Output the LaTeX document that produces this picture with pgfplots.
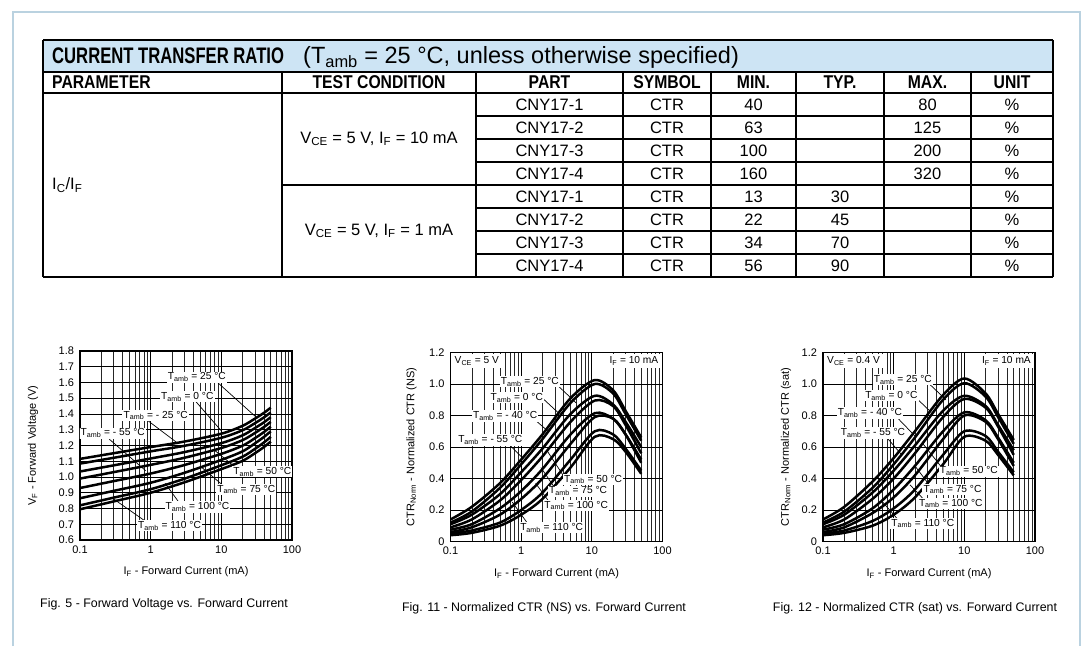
\documentclass[border=0pt]{standalone}
\usepackage{fontspec}
\setmainfont{Liberation Sans}
\newfontfamily\condf[FakeStretch=0.85]{Liberation Sans}
\newfontfamily\titlef[FakeStretch=0.74]{Liberation Sans}
\usepackage{pgfplots}
\pgfplotsset{compat=1.18}
\definecolor{framec}{RGB}{186,210,224}
\definecolor{bandc}{RGB}{205,228,244}
\newcommand\fs[1]{\fontsize{#1}{#1}\selectfont}
\newcommand\Ta{T\textsubscript{amb}}
\newcommand\bodyf{\fs{16.5}}
\newcommand\headf{\condf\bfseries\fs{18.5}}
\newcommand\trow[5]{%
  \node[font=\bodyf] at (549.5,#1) {#2};
  \node[font=\bodyf] at (667,#1) {CTR};
  \node[font=\bodyf] at (753.5,#1) {#3};
  \node[font=\bodyf] at (840,#1) {#4};
  \node[font=\bodyf] at (927.5,#1) {#5};
  \node[font=\bodyf] at (1012,#1) {\%};}
\tikzset{
  lab/.style={fill=white, inner sep=1.2pt, font=\fs{10.2}},
  ld/.style={black, line width=0.7pt},
}
\pgfplotsset{
  every axis/.append style={
    scale only axis, width=212pt, height=189pt,
    xmode=log, xmin=0.1, xmax=100,
    xtick={0.1,1,10,100}, xticklabels={0.1,1,10,100},
    minor xtick={0.2,0.3,0.4,0.5,0.6,0.7,0.8,0.9,2,3,4,5,6,7,8,9,20,30,40,50,60,70,80,90},
    grid=both,
    major grid style={black, line width=0.8pt},
    minor grid style={black!85, line width=0.55pt},
    major tick length=0pt, minor tick length=0pt,
    axis line style={line width=1.7pt},
    tick label style={font=\fs{11}},
    xticklabel style={yshift=-2pt},
    yticklabel style={xshift=-2.5pt},
    label style={font=\fs{11}},
    xlabel={I\textsubscript{F} - Forward Current (mA)},
    xlabel style={at={(axis description cs:0.5,-0.17)}, anchor=center},
  },
  every axis plot post/.append style={black, solid, mark=none, line width=2.5pt, smooth},
}
\begin{document}
\begin{tikzpicture}
\path[use as bounding box] (0pt,0pt) rectangle (1086pt,646pt);
\begin{scope}[x=1pt,y=-1pt,shift={(0pt,646pt)}]
  \draw[framec, line width=2pt] (13,646) -- (13,12) -- (1080,12) -- (1080,646);
  % table
  \fill[bandc] (43,40) rectangle (1053,72);
  \draw[line width=1.2pt] (43,40) -- (1053,40);
  \draw[line width=1.2pt] (43,40) -- (43,277) (1053,40) -- (1053,277);
  \draw[line width=1.1pt] (43,72) -- (1053,72) (43,93) -- (1053,93) (43,277) -- (1053,277);
  \foreach \x in {282,476,623,711,796,884,971} \draw[line width=1.1pt] (\x,72) -- (\x,277);
  \foreach \y in {116,139,162,208,231,254} \draw[line width=1.1pt] (476,\y) -- (1053,\y);
  \draw[line width=1.1pt] (282,185) -- (1053,185);
  \node[anchor=base west, inner sep=0pt, font=\titlef\bfseries\fs{22.5}] at (52,64) {CURRENT TRANSFER RATIO};
  \node[anchor=base west, inner sep=0pt, font=\fs{23.5}] at (303,64) {(\Ta{} = 25 °C, unless otherwise specified)};
  \node[anchor=west, inner sep=0pt, font=\headf] at (52,82.5) {PARAMETER};
  \node[font=\headf] at (379,82.5) {TEST CONDITION};
  \node[font=\headf] at (549.5,82.5) {PART};
  \node[font=\headf] at (667,82.5) {SYMBOL};
  \node[font=\headf] at (753.5,82.5) {MIN.};
  \node[font=\headf] at (840,82.5) {TYP.};
  \node[font=\headf] at (927.5,82.5) {MAX.};
  \node[font=\headf] at (1012,82.5) {UNIT};
  \node[anchor=west, inner sep=0pt, font=\bodyf] at (52,185) {I\textsubscript{C}/I\textsubscript{F}};
  \node[font=\bodyf] at (379,139) {V\textsubscript{CE} = 5 V, I\textsubscript{F} = 10 mA};
  \node[font=\bodyf] at (379,231) {V\textsubscript{CE} = 5 V, I\textsubscript{F} = 1 mA};
  \trow{104.5}{CNY17-1}{40}{}{80}
  \trow{127.5}{CNY17-2}{63}{}{125}
  \trow{150.5}{CNY17-3}{100}{}{200}
  \trow{173.5}{CNY17-4}{160}{}{320}
  \trow{196.5}{CNY17-1}{13}{30}{}
  \trow{219.5}{CNY17-2}{22}{45}{}
  \trow{242.5}{CNY17-3}{34}{70}{}
  \trow{265.5}{CNY17-4}{56}{90}{}
  % captions
  \node[font=\fs{12.4}] at (164,604) {Fig. 5 - Forward Voltage vs. Forward Current};
  \node[font=\fs{12.4}] at (544,608) {Fig. 11 - Normalized CTR (NS) vs. Forward Current};
  \node[font=\fs{12.4}] at (915,608) {Fig. 12 - Normalized CTR (sat) vs. Forward Current};
\end{scope}

% ---------- Fig 5 ----------
\begin{axis}[at={(80pt,106pt)}, anchor=south west,
  ymin=0.6, ymax=1.8,
  ytick={0.6,0.7,0.8,0.9,1.0,1.1,1.2,1.3,1.4,1.5,1.6,1.7,1.8},
  yticklabels={0.6,0.7,0.8,0.9,1.0,1.1,1.2,1.3,1.4,1.5,1.6,1.7,1.8},
  ylabel={V\textsubscript{F} - Forward Voltage (V)},
  ylabel style={at={(axis description cs:-0.222,0.5)}, anchor=center}]
\addplot coordinates {(0.1,1.115)(0.3,1.151)(1,1.19)(3,1.225)(10,1.275)(20,1.325)(30,1.371)(40,1.407)(50,1.44)};
\addplot coordinates {(0.1,1.085)(0.3,1.122)(1,1.163)(3,1.198)(10,1.249)(20,1.297)(30,1.342)(40,1.378)(50,1.41)};
\addplot coordinates {(0.1,1.035)(0.3,1.074)(1,1.1175)(3,1.158)(10,1.215)(20,1.2645)(30,1.311)(40,1.347)(50,1.38)};
\addplot coordinates {(0.1,0.99)(0.3,1.031)(1,1.077)(3,1.122)(10,1.184)(20,1.234)(30,1.28)(40,1.317)(50,1.35)};
\addplot coordinates {(0.1,0.93)(0.3,0.974)(1,1.022)(3,1.076)(10,1.147)(20,1.199)(30,1.247)(40,1.285)(50,1.32)};
\addplot coordinates {(0.1,0.865)(0.3,0.912)(1,0.9635)(3,1.0265)(10,1.1085)(20,1.163)(30,1.214)(40,1.254)(50,1.29)};
\addplot coordinates {(0.1,0.82)(0.3,0.869)(1,0.9226)(3,0.989)(10,1.0745)(20,1.129)(30,1.179)(40,1.219)(50,1.255)};
\addplot coordinates {(0.1,0.795)(0.3,0.845)(1,0.90)(3,0.966)(10,1.05)(20,1.1025)(30,1.1515)(40,1.19)(50,1.225)};
\draw[ld] (axis cs:9,1.597) -- (axis cs:31.6,1.377);
\draw[ld] (axis cs:4.4,1.477) -- (axis cs:10,1.293);
\draw[ld] (axis cs:0.9,1.36) -- (axis cs:2.28,1.223);
\draw[ld] (axis cs:0.26,1.24) -- (axis cs:0.85,1.04);
\draw[ld] (axis cs:17,1.05) -- (axis cs:8,1.17);
\draw[ld] (axis cs:11,0.94) -- (axis cs:5,1.07);
\draw[ld] (axis cs:2.6,0.83) -- (axis cs:1.6,0.96);
\draw[ld] (axis cs:0.9,0.71) -- (axis cs:0.3,0.86);
\node[lab] at (axis cs:4.5,1.633) {\Ta{} = 25 °C};
\node[lab] at (axis cs:3.3,1.51) {\Ta{} = 0 °C};
\node[lab] at (axis cs:1.18,1.39) {\Ta{} = - 25 °C};
\node[lab] at (axis cs:0.29,1.278) {\Ta{} = - 55 °C};
\node[lab] at (axis cs:38,1.034) {\Ta{} = 50 °C};
\node[lab] at (axis cs:22.5,0.92) {\Ta{} = 75 °C};
\node[lab] at (axis cs:4.6,0.81) {\Ta{} = 100 °C};
\node[lab] at (axis cs:1.85,0.69) {\Ta{} = 110 °C};
\end{axis}

% ---------- Fig 11 ----------
\begin{axis}[at={(450.5pt,104.5pt)}, anchor=south west,
  ymin=0, ymax=1.2,
  ytick={0,0.2,0.4,0.6,0.8,1.0,1.2},
  yticklabels={0,0.2,0.4,0.6,0.8,1.0,1.2},
  ylabel={CTR\textsubscript{Norm} - Normalized CTR (NS)},
  ylabel style={at={(axis description cs:-0.184,0.5)}, anchor=center}]
\addplot coordinates {(0.1,0.14)(0.2,0.22)(0.5,0.37)(1,0.52)(2,0.68)(5,0.91)(11,1.025)(20,0.96)(30,0.83)(50,0.66)};
\addplot coordinates {(0.1,0.12)(0.2,0.19)(0.5,0.34)(1,0.49)(2,0.65)(5,0.88)(11,1.00)(20,0.94)(30,0.81)(50,0.64)};
\addplot coordinates {(0.1,0.11)(0.2,0.17)(0.5,0.30)(1,0.44)(2,0.59)(5,0.81)(11,0.925)(20,0.87)(30,0.76)(50,0.60)};
\addplot coordinates {(0.1,0.09)(0.2,0.14)(0.5,0.26)(1,0.39)(2,0.54)(5,0.76)(11,0.895)(20,0.86)(30,0.74)(50,0.56)};
\addplot coordinates {(0.1,0.075)(0.2,0.11)(0.5,0.21)(1,0.32)(2,0.46)(5,0.68)(11,0.815)(20,0.78)(30,0.68)(50,0.52)};
\addplot coordinates {(0.1,0.06)(0.2,0.09)(0.5,0.17)(1,0.27)(2,0.40)(5,0.62)(11,0.79)(20,0.78)(30,0.68)(50,0.50)};
\addplot coordinates {(0.1,0.05)(0.2,0.07)(0.5,0.12)(1,0.20)(2,0.31)(5,0.52)(11,0.70)(20,0.68)(30,0.59)(50,0.45)};
\addplot coordinates {(0.1,0.04)(0.2,0.055)(0.5,0.10)(1,0.17)(2,0.27)(5,0.47)(11,0.665)(20,0.65)(30,0.57)(50,0.43)};
\draw[ld] (axis cs:3.3,0.99) -- (axis cs:6.0,0.88);
\draw[ld] (axis cs:2.06,0.905) -- (axis cs:3.3,0.82);
\draw[ld] (axis cs:1.5,0.78) -- (axis cs:2.4,0.70);
\draw[ld] (axis cs:0.66,0.62) -- (axis cs:1.05,0.53);
\draw[ld] (axis cs:4.2,0.40) -- (axis cs:2.3,0.58);
\draw[ld] (axis cs:3.1,0.33) -- (axis cs:1.9,0.47);
\draw[ld] (axis cs:2.6,0.24) -- (axis cs:1.6,0.37);
\draw[ld] (axis cs:1.3,0.10) -- (axis cs:0.75,0.25);
\node[lab, anchor=north west, inner sep=3pt, xshift=1pt, yshift=-1pt] at (axis cs:0.1,1.2) {V\textsubscript{CE} = 5 V};
\node[lab, anchor=north east, inner sep=3pt, xshift=-1pt, yshift=-1pt] at (axis cs:100,1.2) {I\textsubscript{F} = 10 mA};
\node[lab] at (axis cs:1.33,1.015) {\Ta{} = 25 °C};
\node[lab] at (axis cs:0.867,0.913) {\Ta{} = 0 °C};
\node[lab] at (axis cs:0.593,0.797) {\Ta{} = - 40 °C};
\node[lab] at (axis cs:0.366,0.644) {\Ta{} = - 55 °C};
\node[lab] at (axis cs:10.4,0.393) {\Ta{} = 50 °C};
\node[lab] at (axis cs:6.4,0.319) {\Ta{} = 75 °C};
\node[lab] at (axis cs:6.0,0.229) {\Ta{} = 100 °C};
\node[lab] at (axis cs:2.7,0.087) {\Ta{} = 110 °C};
\end{axis}

% ---------- Fig 12 ----------
\begin{axis}[at={(823pt,104.5pt)}, anchor=south west,
  ymin=0, ymax=1.2,
  ytick={0,0.2,0.4,0.6,0.8,1.0,1.2},
  yticklabels={0,0.2,0.4,0.6,0.8,1.0,1.2},
  ylabel={CTR\textsubscript{Norm} - Normalized CTR (sat)},
  ylabel style={at={(axis description cs:-0.175,0.5)}, anchor=center}]
\addplot coordinates {(0.1,0.14)(0.2,0.22)(0.5,0.38)(1,0.53)(2,0.70)(5,0.93)(10,1.035)(20,0.94)(30,0.81)(50,0.645)};
\addplot coordinates {(0.1,0.12)(0.2,0.19)(0.5,0.34)(1,0.49)(2,0.66)(5,0.90)(10,1.005)(20,0.92)(30,0.79)(50,0.62)};
\addplot coordinates {(0.1,0.11)(0.2,0.17)(0.5,0.31)(1,0.45)(2,0.61)(5,0.83)(10,0.925)(20,0.86)(30,0.74)(50,0.58)};
\addplot coordinates {(0.1,0.09)(0.2,0.14)(0.5,0.27)(1,0.40)(2,0.56)(5,0.79)(10,0.905)(20,0.85)(30,0.73)(50,0.55)};
\addplot coordinates {(0.1,0.075)(0.2,0.11)(0.5,0.21)(1,0.33)(2,0.48)(5,0.70)(10,0.82)(20,0.77)(30,0.66)(50,0.50)};
\addplot coordinates {(0.1,0.06)(0.2,0.09)(0.5,0.18)(1,0.28)(2,0.42)(5,0.65)(10,0.80)(20,0.76)(30,0.65)(50,0.48)};
\addplot coordinates {(0.1,0.05)(0.2,0.07)(0.5,0.13)(1,0.21)(2,0.33)(5,0.55)(10,0.70)(20,0.67)(30,0.57)(50,0.44)};
\addplot coordinates {(0.1,0.04)(0.2,0.055)(0.5,0.10)(1,0.17)(2,0.28)(5,0.49)(10,0.665)(20,0.64)(30,0.55)(50,0.42)};
\draw[ld] (axis cs:3.2,1.0) -- (axis cs:5.5,0.9);
\draw[ld] (axis cs:2.1,0.91) -- (axis cs:3.4,0.82);
\draw[ld] (axis cs:1.05,0.80) -- (axis cs:2.0,0.67);
\draw[ld] (axis cs:0.8,0.66) -- (axis cs:1.3,0.55);
\draw[ld] (axis cs:5,0.46) -- (axis cs:2.6,0.62);
\draw[ld] (axis cs:3.3,0.35) -- (axis cs:2.0,0.48);
\draw[ld] (axis cs:2.9,0.25) -- (axis cs:1.7,0.36);
\draw[ld] (axis cs:1.2,0.13) -- (axis cs:0.7,0.25);
\node[lab, anchor=north west, inner sep=3pt, xshift=1pt, yshift=-1pt] at (axis cs:0.1,1.2) {V\textsubscript{CE} = 0.4 V};
\node[lab, anchor=north east, inner sep=3pt, xshift=-1pt, yshift=-1pt] at (axis cs:100,1.2) {I\textsubscript{F} = 10 mA};
\node[lab] at (axis cs:1.35,1.027) {\Ta{} = 25 °C};
\node[lab] at (axis cs:0.927,0.925) {\Ta{} = 0 °C};
\node[lab] at (axis cs:0.46,0.816) {\Ta{} = - 40 °C};
\node[lab] at (axis cs:0.51,0.689) {\Ta{} = - 55 °C};
\node[lab] at (axis cs:11.6,0.446) {\Ta{} = 50 °C};
\node[lab] at (axis cs:6.8,0.33) {\Ta{} = 75 °C};
\node[lab] at (axis cs:6.43,0.241) {\Ta{} = 100 °C};
\node[lab] at (axis cs:2.58,0.114) {\Ta{} = 110 °C};
\end{axis}
\end{tikzpicture}
\end{document}
